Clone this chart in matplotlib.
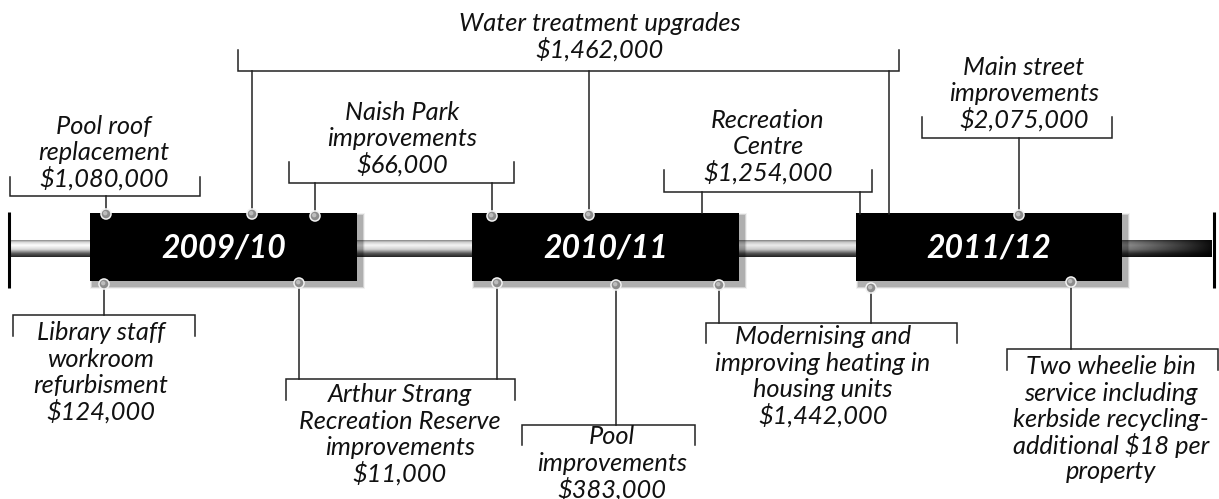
import numpy as np
import matplotlib
matplotlib.use("Agg")
import matplotlib.pyplot as plt
from matplotlib.patches import Rectangle

# ---------------- data ----------------
years = ["2009/10", "2010/11", "2011/12"]

projects = [
    "Pool roof\nreplacement",
    "Water treatment upgrades",
    "Naish Park\nimprovements",
    "Recreation\nCentre",
    "Main street\nimprovements",
    "Library staff\nworkroom\nrefurbisment",
    "Arthur Strang\nRecreation Reserve\nimprovements",
    "Pool\nimprovements",
    "Modernising and\nimproving heating in\nhousing units",
    "Two wheelie bin\nservice including\nkerbside recycling-\nadditional $18 per\nproperty",
]
amounts = ["$1,080,000", "$1,462,000", "$66,000", "$1,254,000", "$2,075,000",
           "$124,000", "$11,000", "$383,000", "$1,442,000", None]

# ---------------- layout (pixel space) ----------------
W, H = 1219, 499
box_x = [(90, 357), (472, 739), (856, 1122)]
box_y = (213, 281)
tube = (10, 1212, 240, 257)

layout = [
    dict(side="top", x0=10, x1=200, y=196, leg=19, drops=[(106, 214, True)], tx=104, ty=126),
    dict(side="top", x0=238, x1=899, y=71, leg=21, drops=[(252, 214, True), (589, 215, True), (889, 214, False)], tx=600, ty=23),
    dict(side="top", x0=289, x1=514, y=183, leg=21, drops=[(315, 216, True), (492, 216, True)], tx=402, ty=112),
    dict(side="top", x0=664, x1=872, y=192, leg=22, drops=[(702, 213, False), (860, 214, False)], tx=768, ty=120),
    dict(side="top", x0=922, x1=1112, y=138, leg=21, drops=[(1019, 215, True)], tx=1024, ty=67),
    dict(side="bot", x0=13, x1=195, y=315, leg=21, drops=[(104, 284, True)], tx=101, ty=333),
    dict(side="bot", x0=286, x1=515, y=379, leg=21, drops=[(299, 283, True), (497, 283, True)], tx=400, ty=395),
    dict(side="bot", x0=522, x1=695, y=425, leg=20, drops=[(616, 285, True)], tx=612, ty=437),
    dict(side="bot", x0=706, x1=957, y=323, leg=20, drops=[(719, 285, True), (871, 288, True)], tx=823, ty=337),
    dict(side="bot", x0=1007, x1=1218, y=349, leg=21, drops=[(1071, 282, True)], tx=1111, ty=367),
]
line_h = 26.2

plt.rcParams['font.family'] = ['Lato', 'DejaVu Sans']

fig = plt.figure(figsize=(W / 100, H / 100), dpi=100)
ax = fig.add_axes([0, 0, 1, 1])
ax.set_xlim(0, W)
ax.set_ylim(H, 0)
ax.axis("off")

# ---------------- tube ----------------
x0, x1, y0, y1 = tube
ny, nx = 40, 600
v = np.linspace(0, 1, ny)[:, None]
prof = np.interp(v, [0, 0.12, 0.3, 0.55, 0.8, 1.0], [0.55, 0.85, 1.0, 0.85, 0.35, 0.15])
hx = np.linspace(0, 1, nx)[None, :]
dark = np.interp(hx, [0, 0.85, 0.93, 0.98, 1.0], [1.0, 0.9, 0.55, 0.2, 0.05])
img = prof * dark
ax.imshow(np.dstack([img, img, img]), extent=(x0, x1, y1, y0), aspect="auto",
          interpolation="bilinear", zorder=1)
ax.plot([9, 9], [212, 288], color="black", lw=2.2, zorder=3, solid_capstyle="butt")
ax.plot([1214, 1214], [212, 288], color="black", lw=2.2, zorder=3, solid_capstyle="butt")

# ---------------- boxes ----------------
for (bx0, bx1), yr in zip(box_x, years):
    by0, by1 = box_y
    for i, a in enumerate([0.05, 0.06, 0.07, 0.08, 0.09]):
        off = 10 - 2 * i
        ax.add_patch(Rectangle((bx0 - off * 0.3 + 3, by0 - off * 0.3 + 3),
                               (bx1 - bx0) + off * 0.6 + 2, (by1 - by0) + off * 0.6 + 2,
                               facecolor="black", alpha=a, lw=0, zorder=2))
    ax.add_patch(Rectangle((bx0, by0), bx1 - bx0, by1 - by0, facecolor="black",
                           edgecolor="none", zorder=4))
    ax.text((bx0 + bx1) / 2, (by0 + by1) / 2 + 1, yr, color="white", fontsize=23,
            fontweight="bold", fontstyle="italic", ha="center", va="center", zorder=5)

# ---------------- brackets, dots, labels ----------------
lc = "#222222"
lw = 1.1
for name, amt, L in zip(projects, amounts, layout):
    sgn = -1 if L["side"] == "top" else 1
    y = L["y"]
    ax.plot([L["x0"], L["x0"], L["x1"], L["x1"]],
            [y + sgn * L["leg"], y, y, y + sgn * L["leg"]],
            color=lc, lw=lw, zorder=6, solid_joinstyle="miter")
    for dx, dy, dot in L["drops"]:
        ax.plot([dx, dx], [y, dy], color=lc, lw=lw, zorder=6)
        if dot:
            ax.scatter([dx], [dy], s=70, facecolor="#f2f2f2", edgecolor="none", zorder=7)
            ax.scatter([dx], [dy], s=38, facecolor="#8c8c8c", edgecolor="none", zorder=8)
            ax.scatter([dx - 0.8], [dy - 0.8], s=10, facecolor="#bdbdbd", edgecolor="none", zorder=9)
    lines = name.split("\n") + ([amt] if amt else [])
    for i, t in enumerate(lines):
        ax.text(L["tx"], L["ty"] + i * line_h, t, fontsize=18.3, fontstyle="italic",
                color="#111111", ha="center", va="center", zorder=10)

fig.savefig("out.png", dpi=100, facecolor="white")
